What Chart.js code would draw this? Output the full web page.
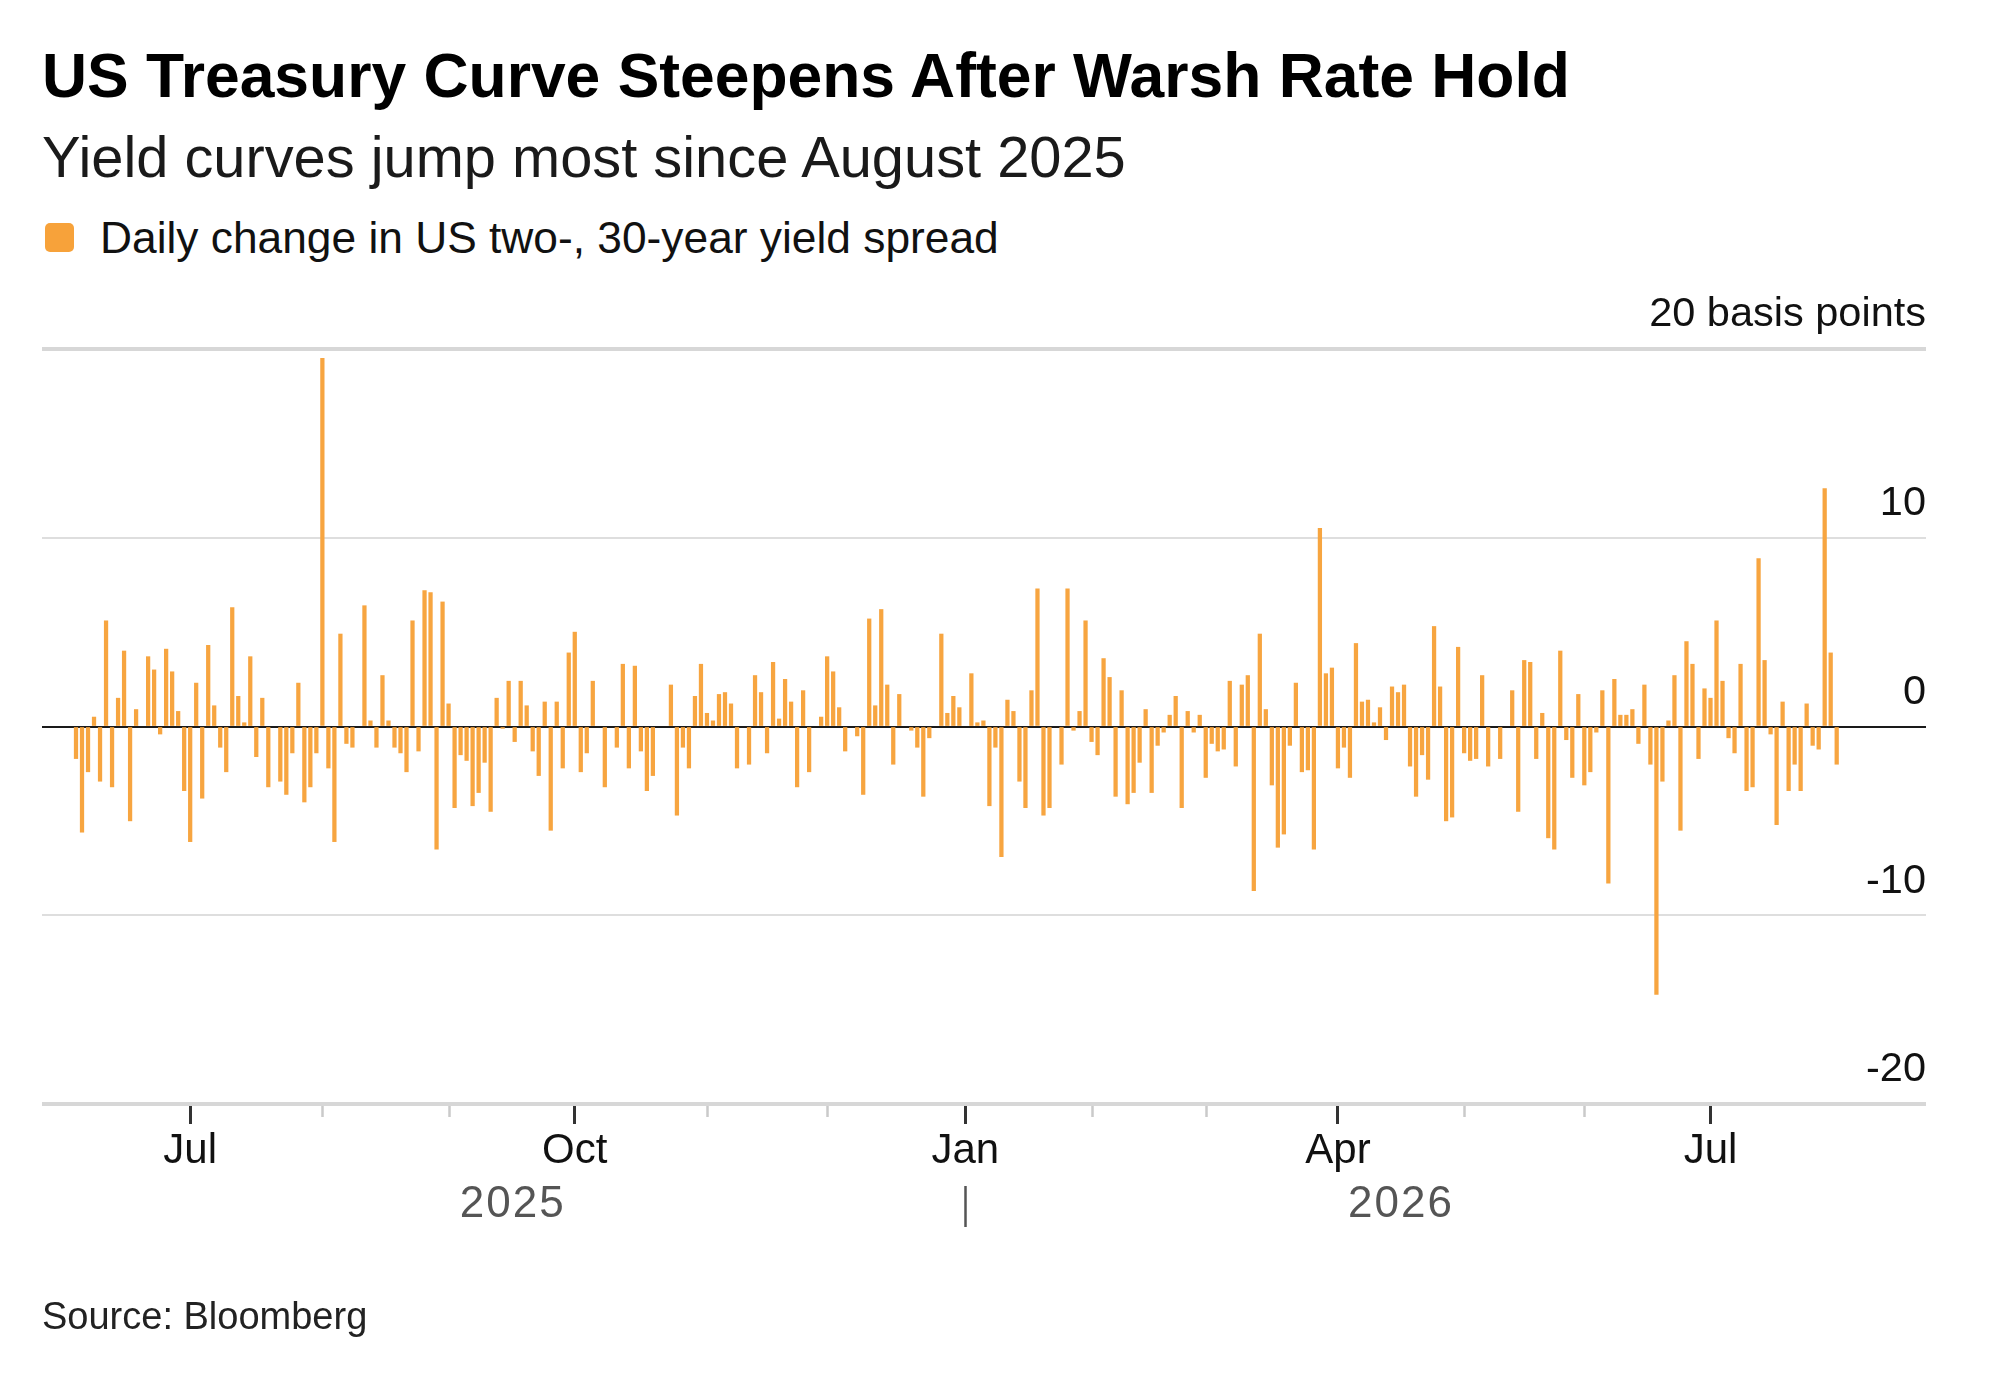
<!DOCTYPE html>
<html>
<head>
<meta charset="utf-8">
<script src="https://cdn.jsdelivr.net/npm/chart.js@4.4.1/dist/chart.umd.min.js"></script>
<style>
  html, body { margin: 0; padding: 0; background: #ffffff; }
  #wrap { position: relative; width: 2000px; height: 1399px; overflow: hidden;
          font-family: "Liberation Sans", Arial, Helvetica, sans-serif; color: #000; background:#fff; }
  .t { position: absolute; white-space: nowrap; line-height: 1; }
  #title { left: 42px; top: 45px; font-size: 62.4px; font-weight: bold; color: #000; }
  #subtitle { left: 42px; top: 129px; font-size: 57.8px; color: #1a1a1a; }
  #legend { left: 45px; top: 216px; font-size: 44.3px; color: #111; }
  #legend .sw { position: absolute; left: 0; top: 7px; width: 29px; height: 29px; border-radius: 5px; background: #F7A23A; }
  #legend .lt { position: absolute; left: 55px; top: 0; white-space: nowrap; }
  #source { left: 42px; top: 1297px; font-size: 38px; color: #222; }
  #chart { position: absolute; left: 0; top: 0; }
</style>
</head>
<body>
<div id="wrap">
  <div class="t" id="title">US Treasury Curve Steepens After Warsh Rate Hold</div>
  <div class="t" id="subtitle">Yield curves jump most since August 2025</div>
  <div class="t" id="legend"><span class="sw"></span><span class="lt">Daily change in US two-, 30-year yield spread</span></div>
  <canvas id="chart" width="2000" height="1399"></canvas>
  <div class="t" id="source">Source: Bloomberg</div>
</div>
<script>
// ---- Data: daily change in US 2s30s spread (basis points), one array per month ----
const seriesLabel = "Daily change in US two-, 30-year yield spread";
const monthNames = ["Jun", "Jul", "Aug", "Sep", "Oct", "Nov", "Dec", "Jan", "Feb", "Mar", "Apr", "May", "Jun", "Jul"];
const monthYears = [2025, 2025, 2025, 2025, 2025, 2025, 2025, 2026, 2026, 2026, 2026, 2026, 2026, 2026];

const jun2025 = [-1.7, -5.6, -2.4, 0.5, -2.9, 5.6, -3.2, 1.5, 4.0, -5.0, 0.9, null, 3.7, 3.0, -0.4, 4.1, 2.9, 0.8, -3.4];
const jul2025 = [-6.1, 2.3, -3.8, 4.3, 1.1, -1.1, -2.4, 6.3, 1.6, 0.2, 3.7, -1.6, 1.5, -3.2, null, -2.9, -3.6, -1.4, 2.3, -4.0, -3.2, -1.4];
const aug2025 = [19.5, -2.2, -6.1, 4.9, -0.9, -1.1, null, 6.4, 0.3, -1.1, 2.7, 0.3, -1.1, -1.4, -2.4, 5.6, -1.3, 7.2, 7.1, -6.5, 6.6];
const sep2025 = [1.2, -4.3, -1.5, -1.8, -4.2, -3.5, -1.9, -4.5, 1.5, -0.1, 2.4, -0.8, 2.4, 1.1, -1.3, -2.6, 1.3, -5.5, 1.3, -2.2, 3.9];
const oct2025 = [5.0, -2.4, -1.4, 2.4, null, -3.2, null, -1.1, 3.3, -2.2, 3.2, -1.3, -3.4, -2.6, null, null, 2.2, -4.7, -1.1, -2.2, 1.6, 3.3];
const nov2025 = [0.7, 0.3, 1.7, 1.8, 1.2, -2.2, null, -2.0, 2.7, 1.8, -1.4, 3.4, 0.4, 2.5, 1.3, -3.2, 1.9, -2.4, null, 0.5];
const dec2025 = [3.7, 2.9, 1.0, -1.3, null, -0.5, -3.6, 5.7, 1.1, 6.2, 2.2, -2.0, 1.7, null, -0.2, -1.1, -3.7, -0.6, null, 4.9, 0.7, 1.6, 1.0];
const jan2026 = [null, 2.8, 0.2, 0.3, -4.2, -1.1, -6.9, 1.4, 0.8, -2.9, -4.3, 1.9, 7.3, -4.7, -4.3, null, -2.0, 7.3, -0.2, 0.8, 5.6];
const feb2026 = [-0.8, -1.5, 3.6, 2.6, -3.7, 1.9, -4.1, -3.5, -1.9, 0.9, -3.5, -1.0, -0.3, 0.6, 1.6, -4.3, 0.8, -0.3, 0.6];
const mar2026 = [-2.7, -0.9, -1.3, -1.2, 2.4, -2.1, 2.2, 2.7, -8.7, 4.9, 0.9, -3.1, -6.4, -5.7, -1.0, 2.3, -2.4, -2.3, -6.5, 10.5, 2.8, 3.1];
const apr2026 = [-2.2, -1.1, -2.7, 4.4, 1.3, 1.4, 0.2, 1.0, -0.7, 2.1, 1.8, 2.2, -2.1, -3.7, -1.5, -2.8, 5.3, 2.1, -5.0, -4.8, 4.2];
const may2026 = [-1.4, -1.8, -1.7, 2.7, -2.1, null, -1.7, null, 1.9, -4.5, 3.5, 3.4, -1.7, 0.7, -5.9, -6.5, 4.0, -0.7, -2.7, 1.7];
const jun2026 = [-3.1, -2.4, -0.3, 1.9, -8.3, 2.5, 0.6, 0.6, 0.9, -0.9, 2.2, -2.0, -14.2, -2.9, 0.3, 2.7, -5.5, 4.5, 3.3, -1.7, 2.0];
const jul2026 = [1.5, 5.6, 2.4, -0.6, -1.4, 3.3, -3.4, -3.2, 8.9, 3.5, -0.4, -5.2, 1.3, -3.4, -2.0, -3.4, 1.2, -1.0, -1.2, 12.6, 3.9, -2.0];

const monthlyValues = [jun2025, jul2025, aug2025, sep2025, oct2025, nov2025, dec2025,
                       jan2026, feb2026, mar2026, apr2026, may2026, jun2026, jul2026];

const yTickValues = [-20, -10, 0, 10, 20];
const yUnitLabel = "20 basis points";
const quarterMonths = ["Jan", "Apr", "Jul", "Oct"];

// ---- Build slot-indexed points (one slot per trading day) ----
const points = [];
const monthStart = [];
let slot = 0;
monthlyValues.forEach((arr) => {
  monthStart.push(slot);
  arr.forEach((v) => { points.push({ x: slot, y: v }); slot++; });
});
const lastSlot = slot - 1;
const tickSlots = monthStart.slice(1);               // month boundaries shown on the axis (Jul 2025 onward)
const tickMonth = monthNames.slice(1);
const isQuarter = (v) => {
  const i = tickSlots.indexOf(v);
  return i >= 0 && quarterMonths.includes(tickMonth[i]);
};
const janIdx = monthYears.indexOf(2026);
const jan2026Slot = monthStart[janIdx];

// ---- Extra axis decorations drawn through the x scale ----
const axisExtras = {
  id: 'axisExtras',
  afterDraw(chart) {
    const ctx = chart.ctx;
    const xs = chart.scales.x;
    const bottom = chart.chartArea.bottom;
    ctx.save();
    // minor month ticks
    ctx.strokeStyle = '#cacaca';
    ctx.lineWidth = 2.5;
    tickSlots.forEach((s) => {
      if (isQuarter(s)) return;
      const px = Math.round(xs.getPixelForValue(s)) + 0.5;
      ctx.beginPath();
      ctx.moveTo(px, bottom + 2);
      ctx.lineTo(px, bottom + 13);
      ctx.stroke();
    });
    // year labels
    ctx.fillStyle = '#555555';
    ctx.font = '44px "Liberation Sans", Arial, sans-serif';
    if ('letterSpacing' in ctx) ctx.letterSpacing = '2px';
    ctx.textAlign = 'center';
    ctx.textBaseline = 'middle';
    const x2025 = (xs.getPixelForValue(0) + xs.getPixelForValue(jan2026Slot)) / 2 - 8;
    const x2026 = (xs.getPixelForValue(jan2026Slot) + xs.getPixelForValue(lastSlot)) / 2;
    ctx.fillText('2025', x2025, bottom + 101);
    ctx.fillText('2026', x2026, bottom + 101);
    if ('letterSpacing' in ctx) ctx.letterSpacing = '0px';
    // year separator below Jan
    const pj = Math.round(xs.getPixelForValue(jan2026Slot)) + 0.5;
    ctx.strokeStyle = '#555555';
    ctx.lineWidth = 2.5;
    ctx.beginPath();
    ctx.moveTo(pj, bottom + 82);
    ctx.lineTo(pj, bottom + 123);
    ctx.stroke();
    ctx.restore();
  }
};

const slotPx = 6.009;
new Chart(document.getElementById('chart'), {
  type: 'bar',
  data: {
    datasets: [{
      label: seriesLabel,
      data: points,
      backgroundColor: '#F7A540',
      borderWidth: 0,
      barThickness: 3.6
    }]
  },
  options: {
    responsive: false,
    animation: false,
    devicePixelRatio: 1,
    layout: { padding: { left: 42, right: 74, top: 349, bottom: 215 } },
    plugins: { legend: { display: false }, tooltip: { enabled: false }, title: { display: false } },
    scales: {
      x: {
        type: 'linear',
        offset: false,
        clip: false,
        min: -34 / slotPx,
        max: lastSlot + 89.3 / slotPx,
        border: { display: false },
        grid: {
          offset: false,
          drawOnChartArea: false,
          drawTicks: true,
          tickLength: 20,
          tickWidth: 3,
          tickColor: (c) => (c.tick && isQuarter(c.tick.value)) ? '#333333' : 'rgba(0,0,0,0)'
        },
        afterBuildTicks: (s) => { s.ticks = tickSlots.map((v) => ({ value: v })); },
        afterFit: (s) => { s.height = 80; s.paddingLeft = 0; s.paddingRight = 0; },
        ticks: {
          autoSkip: false,
          maxRotation: 0,
          minRotation: 0,
          padding: 2,
          color: '#111111',
          font: { family: '"Liberation Sans", Arial, sans-serif', size: 42 },
          callback: (value) => {
            const i = tickSlots.indexOf(value);
            return (i >= 0 && quarterMonths.includes(tickMonth[i])) ? tickMonth[i] : '';
          }
        }
      },
      y: {
        type: 'linear',
        position: 'right',
        min: -20,
        max: 20,
        clip: false,
        border: { display: false },
        afterBuildTicks: (s) => { s.ticks = yTickValues.map((v) => ({ value: v })); },
        afterFit: (s) => { s.width = 0; s.paddingTop = 0; s.paddingBottom = 0; },
        grid: {
          drawTicks: false,
          color: (c) => {
            const v = c.tick ? c.tick.value : null;
            if (v === 0) return '#1a1a1a';
            if (Math.abs(v) === 20) return '#d7d7d7';
            return '#dedede';
          },
          lineWidth: (c) => {
            const v = c.tick ? c.tick.value : null;
            if (Math.abs(v) === 20) return 4;
            return 2;
          }
        },
        ticks: {
          mirror: true,
          padding: 0,
          labelOffset: -34,
          color: '#111111',
          font: { family: '"Liberation Sans", Arial, sans-serif', size: 41.5 },
          callback: (v) => (v === 20 ? yUnitLabel : String(v))
        }
      }
    }
  },
  plugins: [axisExtras]
});
</script>
</body>
</html>
